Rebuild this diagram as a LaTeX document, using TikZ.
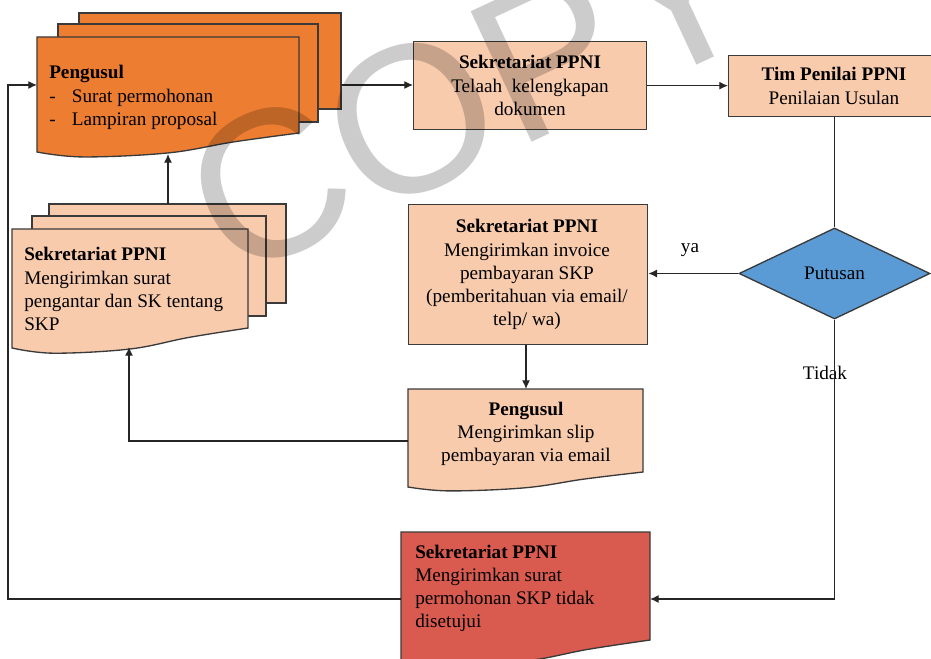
\documentclass[tikz,border=0pt]{standalone}
\usepackage{fontspec}
\setmainfont{Liberation Serif}
\newfontfamily\wmfont{Liberation Sans}
\usetikzlibrary{arrows.meta,shapes.geometric}

\definecolor{orng}{HTML}{ED7D31}
\definecolor{peach}{HTML}{F8CBAD}
\definecolor{blu}{HTML}{5B9BD5}
\definecolor{redd}{HTML}{D95A4E}
\definecolor{edgec}{HTML}{3A3A3A}

% document shape: style, L, T, R, Br, Bl
\newcommand{\docshape}[6]{%
  \pgfmathsetmacro{\docW}{#4-#2}%
  \pgfmathsetmacro{\docD}{#6-#5}%
  \draw[#1] (#2,#6) -- (#2,#3) -- (#4,#3) -- plot[smooth,tension=0.6] coordinates {(#4,#5) ({#2+0.75*\docW},{#5+0.47*\docD}) ({#2+0.5*\docW},{#6+0.05*\docD}) ({#2+0.176*\docW},{#6+0.26*\docD}) (#2,#6)} -- cycle;
}
% rectangular box node: name, style, L, T, R, B
\newcommand{\boxnode}[6]{%
  \pgfmathsetmacro{\bxW}{(#5-#3)*0.75}%
  \pgfmathsetmacro{\bxH}{(#6-#4)*0.75}%
  \node[#2, minimum width=\bxW pt, minimum height=\bxH pt, inner sep=0pt, anchor=north west] (#1) at (#3,#4) {};
}

\tikzset{
  edgeln/.style={draw=edgec, line width=1pt},
  orngbox/.style={edgeln, fill=orng},
  peachbox/.style={edgeln, fill=peach, rectangle},
  redbox/.style={edgeln, fill=redd},
  conn/.style={draw=black!85, line width=0.95pt},
  arr/.style={conn, -{Latex[length=6.5pt,width=6pt]}},
  txt/.style={inner sep=0pt, font=\fontsize{14.4}{17.3}\selectfont},
  decision/.style={shape=diamond, edgeln, fill=blu, inner sep=0pt},
}

\begin{document}
\begin{tikzpicture}[x=0.75pt,y=-0.75pt]
\useasboundingbox (0,0) rectangle (931,659);

% ---- Pengusul multi-document (orange)
\draw[orngbox] (79,13) rectangle (341,109);
\draw[orngbox] (58,24) rectangle (318,122);
\docshape{orngbox}{37}{37}{299}{133}{152}
\coordinate (pengIn) at (37,85);
\coordinate (pengOut) at (341,85);
\coordinate (pengBot) at (168,154);
\node[txt, anchor=base west] (pengTxt) at (49,79)
  {\begin{tabular}[t]{@{}p{17pt}@{}l@{}}\multicolumn{2}{@{}l@{}}{\textbf{Pengusul}}\\ -& Surat permohonan\\ -& Lampiran proposal\end{tabular}};

% ---- Sekretariat multi-document (peach)
\draw[peachbox] (49,204) rectangle (286,303);
\draw[peachbox] (32,216) rectangle (266,316);
\docshape{peachbox}{12}{229}{248}{328}{348}
\coordinate (mdTop) at (168,204);
\coordinate (mdBot) at (129,347);
\node[txt, anchor=base west] (mdTxt) at (24,261)
  {\begin{tabular}[t]{@{}l@{}}\textbf{Sekretariat PPNI}\\ Mengirimkan surat\\ pengantar dan SK tentang\\ SKP\end{tabular}};

% ---- Telaah box
\boxnode{telaah}{peachbox}{413}{41}{646}{129}
\node[txt, anchor=base] (telaahTxt) at (530,69)
  {\begin{tabular}[t]{@{}c@{}}\textbf{Sekretariat PPNI}\\ Telaah\ \ kelengkapan\\ dokumen\end{tabular}};

% ---- Tim Penilai box
\boxnode{tim}{peachbox}{728}{55}{940}{116}
\node[txt, anchor=base] (timTxt) at (834,81)
  {\begin{tabular}[t]{@{}c@{}}\textbf{Tim Penilai PPNI}\\ Penilaian Usulan\end{tabular}};

% ---- Decision
\node[decision, minimum width=143.25pt, minimum height=68.25pt] (dec) at (834.5,273.5) {};
\node[txt] (decTxt) at (834.5,273) {Putusan};

% ---- Invoice box
\boxnode{inv}{peachbox}{408}{204}{647}{344}
\node[txt, anchor=base] (invTxt) at (527,233)
  {\begin{tabular}[t]{@{}c@{}}\textbf{Sekretariat PPNI}\\ Mengirimkan invoice\\ pembayaran SKP\\ (pemberitahuan via email/\\ telp/ wa)\end{tabular}};

% ---- Slip document
\docshape{peachbox}{408}{389}{643}{472}{487}
\coordinate (slipTop) at (526,389);
\coordinate (slipW) at (408,441);
\node[txt, anchor=base] (slipTxt) at (526,415)
  {\begin{tabular}[t]{@{}c@{}}\textbf{Pengusul}\\ Mengirimkan slip\\ pembayaran via email\end{tabular}};

% ---- Red document
\docshape{redbox}{401}{532}{650}{640}{660}
\coordinate (redW) at (401,599);
\coordinate (redE) at (650,599);
\node[txt, anchor=base west] (redTxt) at (415,558)
  {\begin{tabular}[t]{@{}l@{}}\textbf{Sekretariat PPNI}\\ Mengirimkan surat\\ permohonan SKP tidak\\ disetujui\end{tabular}};

% ---- labels
\node[txt] (ya) at (690,250) {ya};
\node[txt] (tidak) at (825,373) {Tidak};

% ---- connectors
\coordinate (loopBL) at (8,599);
\coordinate (loopTL) at (8,85);
\coordinate (slipCorner) at (129,441);
\coordinate (decCorner) at (834.5,599);
\draw[arr] (redW) -- (loopBL) -- (loopTL) -- (pengIn);
\draw[arr] (pengOut) -- (telaah.west |- pengOut);
\draw[arr] (telaah.east) -- (tim.west |- telaah.east);
\draw[conn] (tim.south -| dec.north) -- (dec.north);
\draw[arr] (dec.west) -- (inv.east |- dec.west);
\draw[arr] (inv.south -| slipTop) -- (slipTop);
\draw[arr] (slipW) -- (slipCorner) -- (mdBot);
\draw[arr] (mdTop) -- (pengBot);
\draw[arr] (dec.south) -- (decCorner) -- (redE);

% ---- watermark
\node[rotate=25, font=\wmfont\fontsize{157}{160}\selectfont, text=black, opacity=0.2, text opacity=0.2, inner sep=0pt] (wm) at (470,92) {COPY};
\end{tikzpicture}
\end{document}
